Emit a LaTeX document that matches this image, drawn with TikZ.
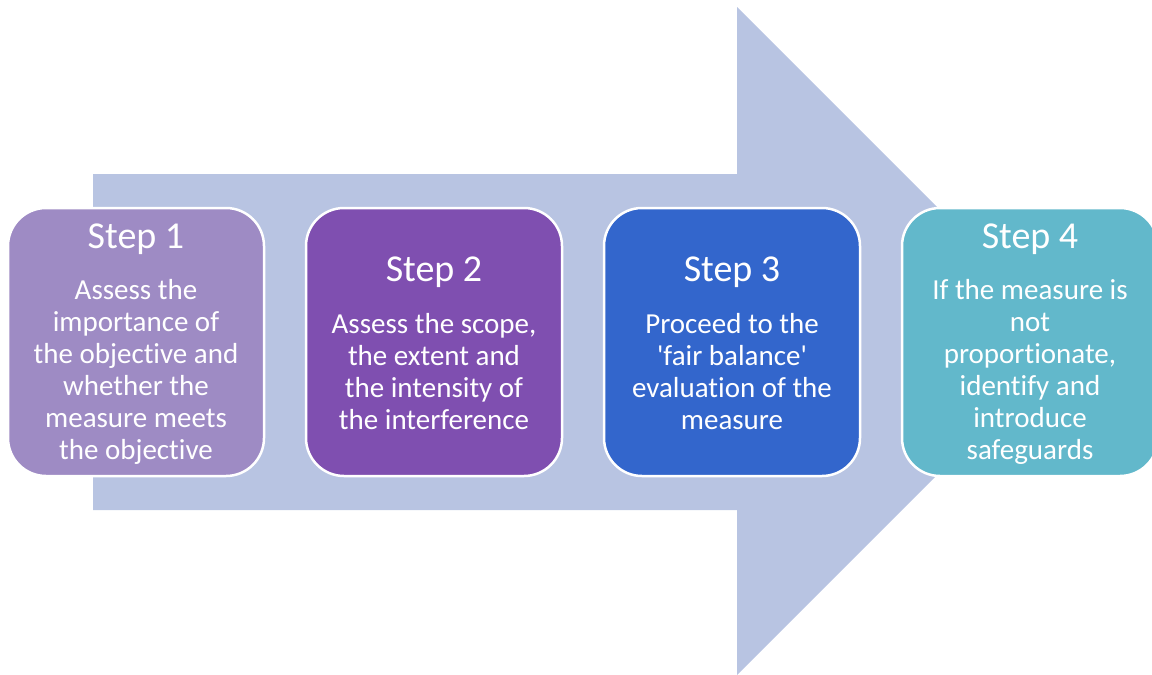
\documentclass[tikz,border=0pt]{standalone}
\usepackage{fontspec}
\setmainfont{Carlito}[Ligatures={NoCommon,TeXOff}]
\definecolor{arrowc}{HTML}{B8C4E2}
\definecolor{cone}{HTML}{9E8BC4}
\definecolor{ctwo}{HTML}{7F4FB0}
\definecolor{cthree}{HTML}{3366CC}
\definecolor{cfour}{HTML}{62B8CB}
\begin{document}
\begin{tikzpicture}[x=1pt,y=-1pt,
  stepbox/.style={draw=white, line width=2.5pt, rounded corners=38pt, minimum width=256pt, minimum height=268pt, inner sep=0pt},
  titletext/.style={text=white, inner sep=0pt, font=\fontsize{38}{40}\selectfont},
  bodytext/.style={text=white, inner sep=0pt, align=center, font=\fontsize{29}{32}\selectfont}]
\useasboundingbox (0,0) rectangle (1152,675);
\clip (0,0) rectangle (1152,675);
\fill[arrowc] (93,174) -- (737,174) -- (737,7) -- (1071,341) -- (737,675) -- (737,510) -- (93,510) -- cycle;
\node[stepbox, fill=cone] (s1) at (136,342) {};
\node[stepbox, fill=ctwo] (s2) at (434,342) {};
\node[stepbox, fill=cthree] (s3) at (732,342) {};
\node[stepbox, fill=cfour] (s4) at (1030,342) {};
\node[titletext] (t1) at (136,239) {Step 1};
\node[titletext] (t2) at (434,272) {Step 2};
\node[titletext] (t3) at (732,272) {Step 3};
\node[titletext] (t4) at (1030,239) {Step 4};
\node[bodytext] (b1) at (136,372) {Assess the\\importance of\\the objective and\\whether the\\measure meets\\the objective};
\node[bodytext] (b2) at (434,372) {Assess the scope,\\the extent and\\the intensity of\\the interference};
\node[bodytext] (b3) at (732,372) {Proceed to the\\'fair balance'\\evaluation of the\\measure};
\node[bodytext] (b4) at (1030,372) {If the measure is\\not\\proportionate,\\identify and\\introduce\\safeguards};
\end{tikzpicture}
\end{document}
